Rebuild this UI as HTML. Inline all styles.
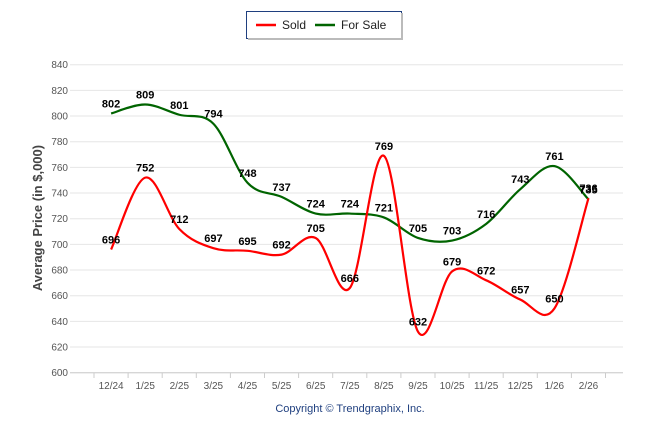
<!DOCTYPE html>
<html><head><meta charset="utf-8"><style>
body{margin:0;background:#fff;font-family:"Liberation Sans",Arial,sans-serif;}
svg text{font-family:"Liberation Sans",Arial,sans-serif;}
</style></head><body>
<svg id="chart" width="646" height="434" xmlns="http://www.w3.org/2000/svg">
<g id="grid"></g>
<g id="yticks"></g>
<g id="xticks"></g>
<g id="series"></g>
<g id="labels"></g>
<text transform="translate(42,218) rotate(-90)" text-anchor="middle" font-size="13" font-weight="bold" fill="#444">Average Price (in $,000)</text>
<text x="350" y="412" text-anchor="middle" font-size="11" fill="#1f3f7f">Copyright © Trendgraphix, Inc.</text>
<g>
<rect x="246.5" y="11.5" width="155" height="27" fill="#fff" stroke="#1f3f7f" stroke-width="1"/>
<rect x="248" y="38" width="155" height="2" fill="#bbb"/>
<rect x="401" y="13" width="2" height="27" fill="#bbb"/>
<g><line x1="256" y1="25" x2="276" y2="25" stroke="#f00" stroke-width="2.5"/><text x="282" y="29" font-size="12" fill="#222">Sold</text></g>
<g><line x1="315" y1="25" x2="335" y2="25" stroke="#006400" stroke-width="2.5"/><text x="341" y="29" font-size="12" fill="#222">For Sale</text></g>
</g>
</svg>
<script>
const categories=["12/24","1/25","2/25","3/25","4/25","5/25","6/25","7/25","8/25","9/25","10/25","11/25","12/25","1/26","2/26"];
const soldValues=[696,752,712,697,695,692,705,666,769,632,679,672,657,650,736];
const forSaleValues=[802,809,801,794,748,737,724,724,721,705,703,716,743,761,735];
const yTicks=[600,620,640,660,680,700,720,740,760,780,800,820,840];
const NS="http://www.w3.org/2000/svg";
function y(v){return 372.7-(v-600)*(308/240);}
function x(i){return 77+34.1*(i+1);}
function mk(tag,attrs,parent){const e=document.createElementNS(NS,tag);for(const k in attrs)e.setAttribute(k,attrs[k]);parent.appendChild(e);return e;}
const grid=document.getElementById('grid'),yt=document.getElementById('yticks'),xt=document.getElementById('xticks');
yTicks.forEach(v=>{
 const l=mk('line',{x1:70,x2:623,y1:y(v),y2:y(v),stroke:'#e6e6e6','stroke-width':1},grid);
 
 
 const t=mk('text',{x:68,y:y(v)+3.5,'text-anchor':'end','font-size':10,fill:'#555'},yt);
 t.textContent=v;
 
 
});
mk('line',{x1:70,x2:623,y1:372.7,y2:372.7,stroke:'#ccc'},xt);
for(let i=-1;i<categories.length;i++){mk('line',{x1:x(i)+17,x2:x(i)+17,y1:372.7,y2:378,stroke:'#ccc'},xt);}
categories.forEach((c,i)=>{
 const t=mk('text',{x:x(i),y:389,'text-anchor':'middle','font-size':10,fill:'#555'},xt);
 t.textContent=c;
 
 
});
function path(vals){
 const p=vals.map((v,i)=>[x(i),y(v)]);
 let d='M'+p[0][0]+','+p[0][1];
 for(let i=0;i<p.length-1;i++){
  const p0=p[i-1]||p[i],p1=p[i],p2=p[i+1],p3=p[i+2]||p2;
  const s=1/6;
  const c1=[p1[0]+(p2[0]-p0[0])*s,p1[1]+(p2[1]-p0[1])*s];
  const c2=[p2[0]-(p3[0]-p1[0])*s,p2[1]-(p3[1]-p1[1])*s];
  d+=' C'+c1+' '+c2+' '+p2;
 }
 return d;
}
const ser=document.getElementById('series'),lab=document.getElementById('labels');
[[forSaleValues,'#006400','for-sale-line'],[soldValues,'#f00','sold-line']].forEach(([vals,col,name])=>{
 const pth=mk('path',{d:path(vals),fill:'none',stroke:col,'stroke-width':2.2},ser);
 
 
 vals.forEach((v,i)=>{
  const t=mk('text',{x:x(i),y:y(v)-6,'text-anchor':'middle','font-size':11,'font-weight':'bold',fill:'#000'},lab);
  t.textContent=v;
  
  
 });
});
</script>
</body></html>
